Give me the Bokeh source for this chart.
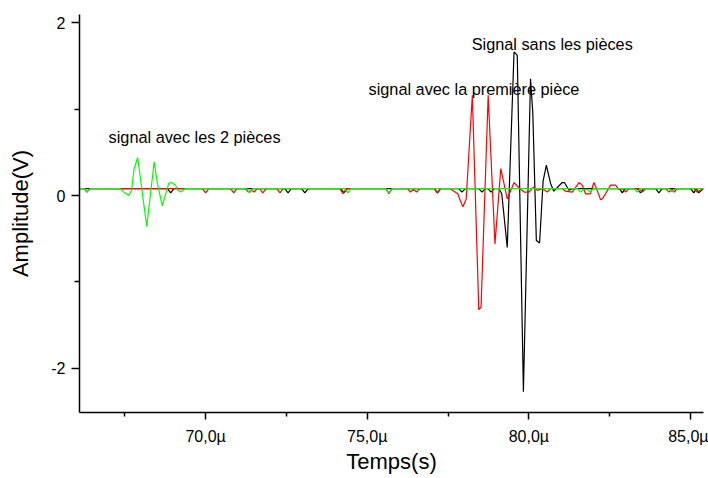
from bokeh.plotting import figure
from bokeh.models import FixedTicker, Label, Range1d
from bokeh.embed import file_html
from bokeh.resources import INLINE

# ---- data (time in microseconds, amplitude in volts) ----
black_t = [66.10, 68.82, 68.92, 69.02, 72.45, 72.55, 72.65, 72.97, 73.07, 73.17,
           74.18, 74.28, 74.38, 77.07, 77.17, 77.27, 77.83, 77.93, 78.03,
           78.45, 78.55, 78.65, 78.73, 78.83, 78.93, 79.07, 79.16, 79.33,
           79.54, 79.64, 79.83, 80.05, 80.12, 80.23, 80.33, 80.44, 80.54,
           80.67, 80.77, 81.03, 81.10, 81.24, 81.35, 82.80, 82.89, 82.98,
           83.35, 83.45, 83.55, 83.92, 84.02, 84.12, 85.00, 85.10, 85.18,
           85.25, 85.40]
black_v = [0.08, 0.08, 0.03, 0.08, 0.08, 0.03, 0.08, 0.08, 0.03, 0.08,
           0.08, 0.03, 0.08, 0.08, 0.03, 0.08, 0.08, 0.04, 0.08,
           0.08, 0.04, 0.08, 0.08, 0.04, 0.08, 0.08, 0.02, -0.60,
           1.66, 1.62, -2.27, 1.35, 0.96, -0.52, -0.55, 0.17, 0.35,
           0.14, 0.05, 0.15, 0.15, 0.06, 0.08, 0.08, 0.03, 0.08,
           0.08, 0.03, 0.08, 0.08, 0.03, 0.08, 0.08, 0.03, 0.08,
           0.03, 0.08]

red_t = [66.10, 66.25, 66.33, 66.42, 69.90, 70.00, 70.10, 70.77, 70.87, 70.97,
         71.22, 71.32, 71.42, 71.50, 71.60, 71.67, 71.77, 71.87, 72.20, 72.30,
         72.40, 74.15, 74.25, 74.35, 75.57, 75.67, 75.77, 76.25, 76.33, 76.43,
         76.53, 76.62, 77.07, 77.17, 77.27, 77.55, 77.68, 77.80, 77.88, 77.96,
         78.06, 78.25, 78.45, 78.52, 78.74, 78.95, 79.13, 79.33, 79.54, 79.69,
         79.85, 80.00, 80.15, 80.26, 80.41, 80.57, 80.67, 81.03, 81.13, 81.34,
         81.55, 81.65, 81.75, 81.90, 82.01, 82.09, 82.22, 82.27, 82.53, 82.68,
         82.78, 82.90, 82.99, 83.09, 83.41, 83.51, 83.61, 84.23, 84.33, 84.43,
         84.50, 84.58, 85.10, 85.20, 85.40]
red_v = [0.08, 0.08, 0.04, 0.08, 0.08, 0.03, 0.08, 0.08, 0.03, 0.08,
         0.08, 0.04, 0.06, 0.04, 0.08, 0.08, 0.03, 0.08, 0.08, 0.03,
         0.08, 0.08, 0.02, 0.08, 0.08, 0.02, 0.08, 0.08, 0.04, 0.07,
         0.04, 0.08, 0.08, 0.03, 0.08, 0.08, 0.05, 0.02, -0.06, -0.13,
         -0.04, 1.16, -1.32, -1.29, 1.16, -0.56, 0.31, -0.04, 0.15, 0.09,
         0.04, 0.04, 0.10, 0.06, 0.08, 0.04, 0.08, 0.08, 0.05, 0.04,
         0.15, 0.12, 0.02, 0.02, 0.15, 0.08, -0.05, -0.04, 0.12, 0.12,
         0.07, 0.08, 0.04, 0.08, 0.08, 0.04, 0.08, 0.08, 0.04, 0.07,
         0.04, 0.08, 0.08, 0.04, 0.08]

green_t = [66.10, 66.25, 66.33, 66.42, 67.35, 67.50, 67.63, 67.71, 67.79, 67.90,
           68.18, 68.41, 68.51, 68.66, 68.86, 68.94, 69.07, 69.14, 69.23, 69.38,
           71.26, 71.36, 71.46, 74.30, 74.40, 74.50, 75.57, 75.67, 75.77,
           81.50, 81.60, 81.70, 81.80, 81.90, 82.00, 83.25, 83.35, 83.45,
           84.33, 84.43, 84.53, 85.40]
green_v = [0.08, 0.08, 0.04, 0.08, 0.08, 0.03, 0.00, 0.06, 0.31, 0.44,
           -0.36, 0.39, 0.14, -0.12, 0.14, 0.15, 0.12, 0.06, 0.04, 0.08,
           0.08, 0.03, 0.08, 0.08, 0.03, 0.08, 0.08, 0.03, 0.08,
           0.08, 0.04, 0.07, 0.07, 0.04, 0.08, 0.08, 0.04, 0.08,
           0.08, 0.04, 0.08, 0.08]

x_ticks = [70, 75, 80, 85]
x_tick_labels = ["70,0µ", "75,0µ", "80,0µ", "85,0µ"]
x_minor_ticks = [67.5, 72.5, 77.5, 82.5]
y_ticks = [-2, 0, 2]
y_tick_labels = ["-2", "0", "2"]
y_minor_ticks = [-1, 1]

annot_text = ["Signal sans les pièces", "signal avec la première pièce", "signal avec les 2 pièces"]
annot_t = [78.23, 75.04, 67.00]
annot_v = [1.754, 1.226, 0.677]

FONT = "Liberation Sans"

p = figure(width=708, height=478, output_backend="svg", toolbar_location=None,
           x_range=Range1d(66.10, 85.40), y_range=Range1d(-2.509, 2.093),
           min_border_left=79, min_border_right=5, min_border_top=14, min_border_bottom=66)
p.outline_line_color = None
p.grid.visible = False
p.background_fill_color = "white"
p.border_fill_color = "white"

p.line(black_t, black_v, line_color="black", line_width=1.2)
p.line(red_t, red_v, line_color="#ff0000", line_width=1.2)
p.line(green_t, green_v, line_color="#00ff00", line_width=1.2)

for txt, t, v in zip(annot_text, annot_t, annot_v):
    p.add_layout(Label(x=t, y=v, text=txt, text_font=FONT, text_font_size="16.3px",
                       text_color="black", text_baseline="alphabetic", text_align="left"))

xa = p.xaxis[0]
xa.ticker = FixedTicker(ticks=x_ticks, minor_ticks=x_minor_ticks)
xa.major_label_overrides = {t: s for t, s in zip(x_ticks, x_tick_labels)}
xa.axis_label = "Temps(s)"
xa.major_tick_out = 7
xa.minor_tick_out = 4
xa.major_label_standoff = 8
xa.axis_label_standoff = 1

ya = p.yaxis[0]
ya.ticker = FixedTicker(ticks=y_ticks, minor_ticks=y_minor_ticks)
ya.major_label_overrides = {t: s for t, s in zip(y_ticks, y_tick_labels)}
ya.axis_label = "Amplitude(V)"
ya.major_tick_out = 8
ya.minor_tick_out = 5
ya.major_label_standoff = 6
ya.axis_label_standoff = 15

for ax in (xa, ya):
    ax.axis_line_width = 1.5
    ax.axis_line_color = "black"
    ax.major_tick_line_width = 1.5
    ax.minor_tick_line_width = 1.5
    ax.major_tick_line_color = "black"
    ax.minor_tick_line_color = "black"
    ax.major_tick_in = 0
    ax.minor_tick_in = 0
    ax.major_label_text_font = FONT
    ax.major_label_text_font_size = "16px"
    ax.major_label_text_color = "black"
    ax.axis_label_text_font = FONT
    ax.axis_label_text_font_size = "22px"
    ax.axis_label_text_font_style = "normal"
    ax.axis_label_text_color = "black"

open("out.html", "w").write(file_html(p, INLINE))
